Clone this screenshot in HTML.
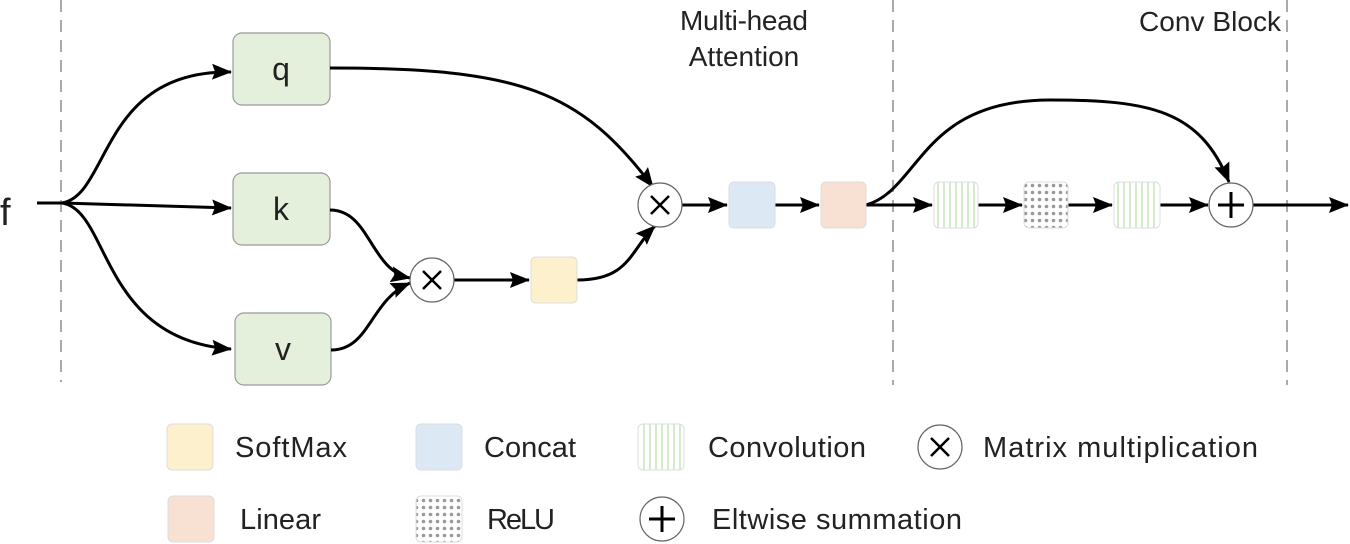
<!DOCTYPE html>
<html><head><style>body{margin:0;background:#fff}svg{display:block}text{font-family:"Liberation Sans",sans-serif;fill:#222}</style></head>
<body>
<svg width="1350" height="544" viewBox="0 0 1350 544" xmlns="http://www.w3.org/2000/svg">
<defs>
<marker id="a" markerWidth="20" markerHeight="16" refX="19" refY="8" orient="auto" markerUnits="userSpaceOnUse" viewBox="0 0 20 16"><path d="M0,0 L20,8 L0,16 L3,8z" fill="#000"/></marker>
<pattern id="cv" width="6" height="46" patternUnits="userSpaceOnUse"><rect width="6" height="46" fill="#fff"/><line x1="2" y1="0" x2="2" y2="46" stroke="#a8d89a" stroke-width="1"/></pattern>
<pattern id="rl" width="7" height="7" patternUnits="userSpaceOnUse"><rect width="7" height="7" fill="#fff"/><circle cx="3.5" cy="3.5" r="1.8" fill="#999"/></pattern>
</defs>
<g stroke="#aaa" stroke-width="2" stroke-dasharray="12,8">
<line x1="61" y1="0" x2="61" y2="382"/><line x1="893" y1="0" x2="893" y2="385"/><line x1="1287" y1="0" x2="1287" y2="385"/>
</g>
<text x="0" y="225" font-size="38">f</text>
<text x="744" y="30" font-size="28" text-anchor="middle" textLength="128">Multi-head</text>
<text x="744" y="66" font-size="28" text-anchor="middle">Attention</text>
<text x="1210" y="31" font-size="28" text-anchor="middle" textLength="142">Conv Block</text>
<g fill="#e5f0dc" stroke="#999" stroke-width="1.2">
<rect x="233" y="33" width="97" height="72" rx="9"/><rect x="233" y="173" width="97" height="72" rx="9"/><rect x="235" y="313" width="96" height="72" rx="9"/>
</g>
<text x="281" y="80" font-size="32" text-anchor="middle">q</text>
<text x="281" y="220" font-size="32" text-anchor="middle">k</text>
<text x="283" y="360" font-size="32" text-anchor="middle">v</text>
<g fill="none" stroke="#000" stroke-width="3">
<path d="M37,203 L62,203" />
<path d="M62,203 C110,195 100,70 231,72" marker-end="url(#a)"/>
<path d="M62,203 L231,208" marker-end="url(#a)"/>
<path d="M62,203 C110,210 100,340 231,349" marker-end="url(#a)"/>
<path d="M330,68 C520,68 580,90 653,187" marker-end="url(#a)"/>
<path d="M330,210 C370,210 370,270 410,278" marker-end="url(#a)"/>
<path d="M331,350 C370,350 370,300 410,283" marker-end="url(#a)"/>
<path d="M454,280 L529,280" marker-end="url(#a)"/>
<path d="M577,280 C630,280 630,250 655,226" marker-end="url(#a)"/>
<path d="M682,205 L727,205" marker-end="url(#a)"/>
<path d="M775,205 L819,205" marker-end="url(#a)"/>
<path d="M866,205 L932,205" marker-end="url(#a)"/>
<path d="M866,205 C920,190 920,100 1050,100 C1150,100 1200,110 1229,182" marker-end="url(#a)"/>
<path d="M978,205 L1022,205" marker-end="url(#a)"/>
<path d="M1068,205 L1112,205" marker-end="url(#a)"/>
<path d="M1160,205 L1208,205" marker-end="url(#a)"/>
<path d="M1253,205 L1348,205" marker-end="url(#a)"/>
</g>
<g stroke="#666" stroke-width="1.2" fill="#fff">
<circle cx="660" cy="205" r="22"/><circle cx="432" cy="280" r="22"/><circle cx="1231" cy="205" r="22"/>
<circle cx="940" cy="447" r="22"/><circle cx="662" cy="519" r="22"/>
</g>
<g stroke="#000" stroke-width="2.5">
<path d="M651,196 L669,214 M669,196 L651,214"/><path d="M423,271 L441,289 M441,271 L423,289"/>
<path d="M931,438 L949,456 M949,438 L931,456"/>
<path d="M1218,205 L1244,205 M1231,192 L1231,218" stroke-width="3"/>
<path d="M649,519 L675,519 M662,506 L662,532" stroke-width="3"/>
</g>
<g stroke="#ddd" stroke-width="1">
<rect x="531" y="257" width="46" height="46" rx="5" fill="#fdf0cc"/>
<rect x="729" y="182" width="46" height="46" rx="5" fill="#dce8f4"/>
<rect x="821" y="182" width="45" height="46" rx="5" fill="#f8e0d2"/>
<rect x="934" y="182" width="44" height="46" rx="5" fill="url(#cv)"/>
<rect x="1024" y="182" width="44" height="46" rx="5" fill="url(#rl)"/>
<rect x="1114" y="182" width="46" height="46" rx="5" fill="url(#cv)"/>
<rect x="167" y="424" width="46" height="46" rx="5" fill="#fdf0cc"/>
<rect x="416" y="424" width="46" height="46" rx="5" fill="#dce8f4"/>
<rect x="638" y="424" width="46" height="46" rx="5" fill="url(#cv)"/>
<rect x="168" y="496" width="46" height="46" rx="5" fill="#f8e0d2"/>
<rect x="416" y="496" width="46" height="46" rx="5" fill="url(#rl)"/>
</g>
<g font-size="29">
<text x="235" y="457" textLength="112">SoftMax</text><text x="484" y="457" textLength="92">Concat</text><text x="708" y="457" textLength="158">Convolution</text><text x="983" y="457" textLength="275">Matrix multiplication</text>
<text x="240" y="529" textLength="81">Linear</text><text x="487" y="529" textLength="68">ReLU</text><text x="712" y="529" textLength="250">Eltwise summation</text>
</g>
</svg>
</body></html>
